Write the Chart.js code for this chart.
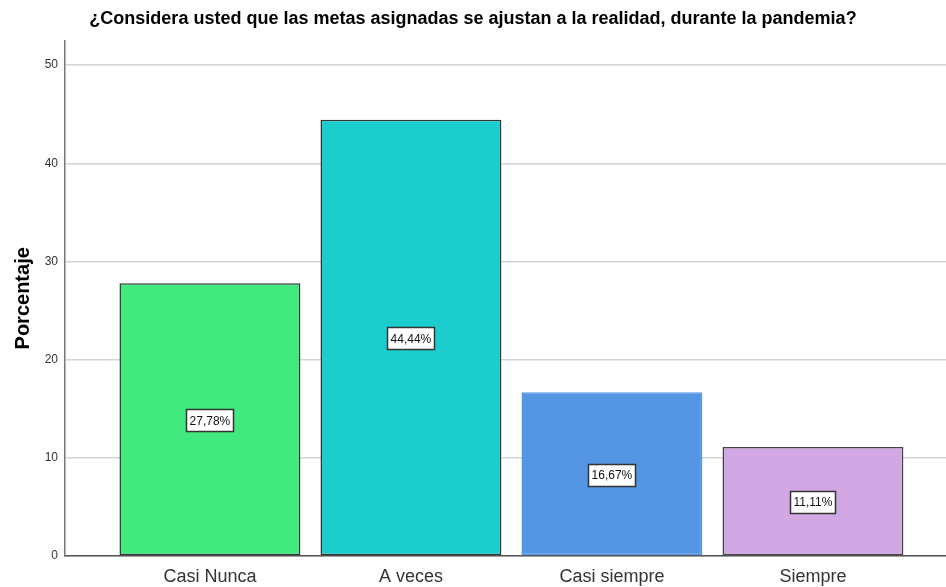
<!DOCTYPE html>
<html>
<head>
<meta charset="utf-8">
<script src="https://cdn.jsdelivr.net/npm/chart.js@4"></script>
<style>
  body { margin: 0; background: #fff; }
  #wrap { width: 946px; height: 587px; }
</style>
</head>
<body>
<div id="wrap"><canvas id="chart" width="946" height="587"></canvas></div>
<script>
// Data
const categories = ['Casi Nunca', 'A veces', 'Casi siempre', 'Siempre'];
const percentages = [27.78, 44.44, 16.67, 11.11];
const yTicks = [0, 10, 20, 30, 40, 50];

const barColors = ['#41E97E', '#1CCDCD', '#5596E4', '#D1A8E3'];
const barBorders = ['#333333', '#333333', '#5596E4', '#444444'];

// Draw the boxed percent labels in the middle of each bar
const boxLabels = {
  id: 'boxLabels',
  afterDatasetsDraw(chart) {
    const ctx = chart.ctx;
    const meta = chart.getDatasetMeta(0);
    ctx.save();
    ctx.font = '12px "Liberation Sans", Arial, sans-serif';
    ctx.textAlign = 'center';
    ctx.textBaseline = 'middle';
    meta.data.forEach((bar, i) => {
      const p = bar.getProps(['x', 'y', 'base'], true);
      const cy = (p.y + p.base) / 2;
      const text = percentages[i].toFixed(2).replace('.', ',') + '%';
      const w = Math.round(ctx.measureText(text).width + 6);
      const h = 22;
      const bx = Math.round(p.x - w / 2) + 0.5;
      const by = Math.round(cy - h / 2) + 1.5;
      ctx.fillStyle = '#fff';
      ctx.fillRect(bx, by, w, h);
      ctx.strokeStyle = '#333';
      ctx.lineWidth = 1.5;
      ctx.strokeRect(bx, by, w, h);
      ctx.fillStyle = '#111';
      ctx.fillText(text, p.x, cy + 2);
    });
    ctx.restore();
  }
};

new Chart(document.getElementById('chart'), {
  type: 'bar',
  data: {
    datasets: [{
      data: percentages.map((v, i) => ({ x: i, y: v })),
      backgroundColor: barColors,
      borderColor: barBorders,
      borderWidth: 1.5,
      borderSkipped: false,
      barPercentage: 0.9,
      categoryPercentage: 1.0
    }]
  },
  options: {
    responsive: false,
    animation: false,
    layout: { padding: 0 },
    plugins: {
      legend: { display: false },
      tooltip: { enabled: false },
      title: {
        display: true,
        text: '¿Considera usted que las metas asignadas se ajustan a la realidad, durante la pandemia?',
        color: '#000',
        font: { family: '"Liberation Sans", Arial, sans-serif', size: 18, weight: 'bold' },
        padding: { top: 8, bottom: 11 }
      }
    },
    scales: {
      x: {
        type: 'linear',
        offset: false,
        min: -0.721,
        max: 3.662,
        afterBuildTicks(scale) {
          scale.ticks = categories.map((c, i) => ({ value: i }));
        },
        afterFit(scale) { scale.height = 31; },
        ticks: {
          color: '#333',
          font: { family: '"Liberation Sans", Arial, sans-serif', size: 18 },
          padding: 10,
          callback: (v) => categories[v]
        },
        grid: { display: false, drawTicks: false, offset: false },
        border: { color: '#555', width: 1.5 }
      },
      y: {
        min: 0,
        max: 52.5,
        afterBuildTicks(scale) {
          scale.ticks = yTicks.map(v => ({ value: v }));
        },
        afterFit(scale) { scale.width = 65; },
        title: {
          display: true,
          text: 'Porcentaje',
          color: '#000',
          font: { family: '"Liberation Sans", Arial, sans-serif', size: 20, weight: 'bold' },
          padding: { top: 11, bottom: 8 }
        },
        ticks: {
          color: '#333',
          font: { family: '"Liberation Sans", Arial, sans-serif', size: 12 },
          padding: 7
        },
        grid: { color: '#d4d4d4', lineWidth: 1.5, drawTicks: false },
        border: { color: '#777', width: 1.5 }
      }
    }
  },
  plugins: [boxLabels]
});
</script>
</body>
</html>
